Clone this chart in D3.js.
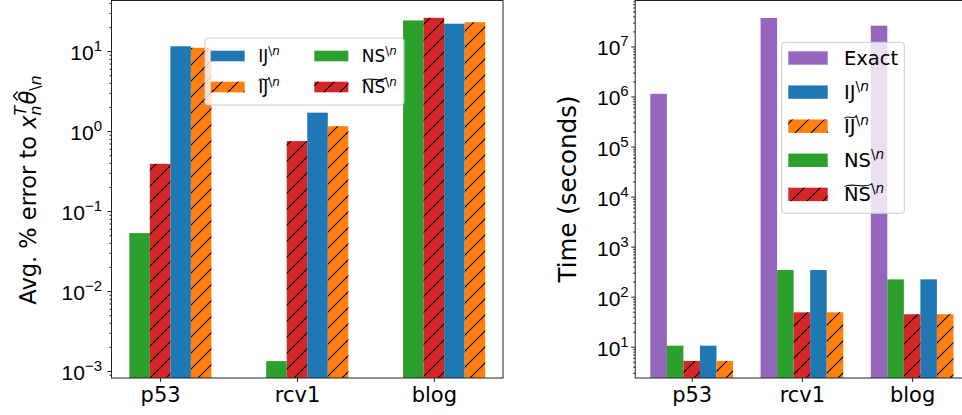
<!DOCTYPE html>
<html>
<head>
<meta charset="utf-8">
<script src="https://cdn.jsdelivr.net/npm/d3@7"></script>
<style>
  body { margin: 0; background: #fff; }
  svg { display: block; font-family: "DejaVu Sans", sans-serif; }
  svg text { white-space: pre; }
</style>
</head>
<body>
<div id="chart"></div>
<script>
const datasets = ['p53', 'rcv1', 'blog'];

// avg. % error (left panel)
const errNS = [0.053, 0.00133, 24.2];
const errNSt = [0.39, 0.75, 26.1];
const errIJ = [11.5, 1.7, 22.0];
const errIJt = [11.0, 1.15, 23.0];
const errTickExp = [-3, -2, -1, 0, 1];

// time in seconds (right panel)
const timeExact = [1.13e6, 3.7e7, 2.6e7];
const timeNS = [10.5, 341, 222];
const timeNSt = [5.2, 48.7, 44.6];
const timeIJ = [10.5, 341, 222];
const timeIJt = [5.2, 48.7, 44.6];
const timeTickExp = [1, 2, 3, 4, 5, 6, 7];

const width = 962;
const height = 415;
const barW = 0.15;

const svg = d3.select('#chart').append('svg')
  .attr('width', width)
  .attr('height', height);

const defs = svg.append('defs');
defs.append('pattern')
  .attr('id', 'hatch')
  .attr('patternUnits', 'userSpaceOnUse')
  .attr('width', 16)
  .attr('height', 16)
  .append('path')
    .attr('d', 'M-4,4 L4,-4 M0,16 L16,0 M12,20 L20,12')
    .attr('stroke', '#000')
    .attr('stroke-width', 1.1);

// draws a run of text pieces (sup / sub / italic) one after the other
function mathRun(parent, x, y, fs, parts) {
  let cx = x;
  const items = [];
  parts.forEach(p => {
    const t = parent.append('text')
      .attr('x', cx)
      .attr('y', y - (p.up || 0) * fs)
      .attr('font-size', fs * (p.sc || 1))
      .attr('font-style', p.it ? 'italic' : null)
      .attr('fill', '#000')
      .text(p.s);
    const w = t.node().getComputedTextLength();
    items.push({ x: cx, w });
    if (!p.stay) cx += w;
  });
  return { width: cx - x, items };
}

function seriesLabel(parent, x, y, fs, base, tilde) {
  const r = mathRun(parent, x, y, fs, [
    { s: base },
    { s: '\\', sc: 0.7, up: 0.42 },
    { s: 'n', sc: 0.7, up: 0.42, it: true }
  ]);
  if (tilde) {
    const b = r.items[0];
    const x0 = b.x + 0.5, x1 = b.x + b.w + 1;
    const yt = y - fs * 0.86;
    const w = x1 - x0;
    parent.append('path')
      .attr('d', `M${x0},${yt + 2} C${x0 + w * 0.3},${yt - 2.5} ${x0 + w * 0.65},${yt + 4.5} ${x1},${yt - 0.5}`)
      .attr('fill', 'none')
      .attr('stroke', '#000')
      .attr('stroke-width', 1.1);
  }
}

function swatch(parent, x, y, w, h, s) {
  parent.append('rect')
    .attr('x', x).attr('y', y).attr('width', w).attr('height', h)
    .attr('fill', s.color);
  if (s.hatch) {
    parent.append('rect')
      .attr('x', x).attr('y', y).attr('width', w).attr('height', h)
      .attr('fill', 'url(#hatch)');
  }
}

function minorTicks(domain) {
  const lo = Math.log10(domain[0]), hi = Math.log10(domain[1]);
  const out = [];
  for (let e = Math.floor(lo); e <= Math.ceil(hi); e++) {
    for (let k = 2; k <= 9; k++) {
      const v = k * Math.pow(10, e);
      if (v >= domain[0] && v <= domain[1]) out.push(v);
    }
  }
  return out;
}

function panel(o) {
  const x = d3.scaleLinear().domain(o.xDomain).range([o.left, o.right]);
  const y = d3.scaleLog().domain(o.yDomain).range([o.bottom, o.top]);
  const g = svg.append('g');

  o.series.forEach(s => {
    const bars = g.append('g');
    s.values.forEach((v, i) => {
      const x0 = x(i + (s.off - 0.5) * barW);
      const x1 = x(i + (s.off + 0.5) * barW);
      swatch(bars, x0, y(v), x1 - x0, o.bottom - y(v), s);
    });
  });

  // frame
  g.append('rect')
    .attr('x', o.left).attr('y', o.top)
    .attr('width', o.right - o.left).attr('height', o.bottom - o.top)
    .attr('fill', 'none')
    .attr('stroke', '#222')
    .attr('stroke-width', 1);

  const majors = o.tickExp.map(e => Math.pow(10, e));
  const ay = g.append('g')
    .attr('transform', `translate(${o.left},0)`)
    .call(d3.axisLeft(y).tickValues(majors).tickSize(4).tickSizeOuter(0).tickFormat(''));
  ay.append('g')
    .call(d3.axisLeft(y).tickValues(minorTicks(o.yDomain)).tickSize(2).tickSizeOuter(0).tickFormat(''));
  ay.selectAll('.domain').remove();
  ay.selectAll('line').attr('stroke', '#222');

  const lab = ay.append('g');
  o.tickExp.forEach(e => {
    const t = lab.append('text')
      .attr('x', o.labelPad)
      .attr('y', y(Math.pow(10, e)) + 9)
      .attr('text-anchor', 'end')
      .attr('font-size', 21)
      .attr('fill', '#000')
      .text('10');
    t.append('tspan')
      .attr('dy', -9)
      .attr('font-size', 15)
      .text(String(e).replace('-', '\u2212'));
  });

  const ax = g.append('g')
    .attr('transform', `translate(0,${o.bottom})`)
    .call(d3.axisBottom(x).tickValues(datasets.map((d, i) => i)).tickSize(4).tickSizeOuter(0)
      .tickFormat(i => datasets[i]));
  ax.selectAll('.domain').remove();
  ax.selectAll('line').attr('stroke', '#222');
  ax.selectAll('text')
    .attr('font-size', 21)
    .attr('font-family', '"DejaVu Sans", sans-serif')
    .attr('fill', '#000')
    .attr('dy', null)
    .attr('y', 23.5);

  return { x, y, g };
}

const C = { exact: '#9467bd', ij: '#1f77b4', ijt: '#ff7f0e', ns: '#2ca02c', nst: '#d62728' };

// ---- left panel
const leftSeries = [
  { key: 'ij', base: 'IJ', tilde: false, values: errIJ, color: C.ij, hatch: false, off: 1 },
  { key: 'ijt', base: 'IJ', tilde: true, values: errIJt, color: C.ijt, hatch: true, off: 2 },
  { key: 'ns', base: 'NS', tilde: false, values: errNS, color: C.ns, hatch: false, off: -1 },
  { key: 'nst', base: 'NS', tilde: true, values: errNSt, color: C.nst, hatch: true, off: 0 }
];
panel({
  left: 111.5, right: 503, top: 0.5, bottom: 378,
  xDomain: [-0.355, 2.505],
  yDomain: [Math.pow(10, -3.0874), Math.pow(10, 1.633)],
  tickExp: errTickExp,
  labelPad: -9.5,
  series: leftSeries
});

// left legend (2 columns)
const legL = svg.append('g');
legL.append('rect')
  .attr('x', 205).attr('y', 38).attr('width', 199).attr('height', 67).attr('rx', 3)
  .attr('fill', '#fff').attr('fill-opacity', 0.8)
  .attr('stroke', '#ccc');
leftSeries.forEach((s, i) => {
  const col = Math.floor(i / 2), row = i % 2;
  const hx = 210.7 + col * 103.6;
  const cy = 56 + row * 31;
  swatch(legL, hx, cy - 5.3, 34, 10.6, s);
  seriesLabel(legL, hx + 47.5, cy + 6.1, 17, s.base, s.tilde);
});

// left y label
const ylL = svg.append('g').attr('transform', 'translate(36,190) rotate(-90)');
const ylLi = ylL.append('g');
const lfs = 22.5;
const run = mathRun(ylLi, 0, 0, lfs, [
  { s: 'Avg. % error to ' },
  { s: 'x', it: true },
  { s: 'T', it: true, sc: 0.7, up: 0.45, stay: true },
  { s: 'n', it: true, sc: 0.7, up: -0.22 },
  { s: ' ', sc: 0.15 },
  { s: '\u03b8', it: true },
  { s: '\\', sc: 0.7, up: -0.22 },
  { s: 'n', it: true, sc: 0.7, up: -0.22 }
]);
const th = run.items[5];
const hc = th.x + th.w / 2 + 1.5;
ylLi.append('path')
  .attr('d', `M${hc - 4.5},${-lfs * 0.82} L${hc},${-lfs * 1.0} L${hc + 4.5},${-lfs * 0.82}`)
  .attr('fill', 'none').attr('stroke', '#000').attr('stroke-width', 1.3);
ylLi.attr('transform', `translate(${-run.width / 2},0)`);

// ---- right panel
const rightSeries = [
  { key: 'exact', base: 'Exact', values: timeExact, color: C.exact, hatch: false, off: -2 },
  { key: 'ij', base: 'IJ', tilde: false, values: timeIJ, color: C.ij, hatch: false, off: 1 },
  { key: 'ijt', base: 'IJ', tilde: true, values: timeIJt, color: C.ijt, hatch: true, off: 2 },
  { key: 'ns', base: 'NS', tilde: false, values: timeNS, color: C.ns, hatch: false, off: -1 },
  { key: 'nst', base: 'NS', tilde: true, values: timeNSt, color: C.nst, hatch: true, off: 0 }
];
panel({
  left: 635.2, right: 968.6, top: 0.5, bottom: 378,
  xDomain: [-0.5125, 2.5125],
  yDomain: [Math.pow(10, 0.3755), Math.pow(10, 7.918)],
  tickExp: timeTickExp,
  labelPad: -6.5,
  series: rightSeries
});

const legR = svg.append('g');
legR.append('rect')
  .attr('x', 781.7).attr('y', 42.3).attr('width', 122.6).attr('height', 171).attr('rx', 3)
  .attr('fill', '#fff').attr('fill-opacity', 0.8)
  .attr('stroke', '#ccc');
rightSeries.forEach((s, i) => {
  const cy = 58 + i * 34.1;
  swatch(legR, 788.3, cy - 6.7, 39.4, 13.4, s);
  if (s.key === 'exact') {
    mathRun(legR, 844, cy + 7, 19.5, [{ s: 'Exact' }]);
  } else {
    seriesLabel(legR, 844, cy + 7, 19.5, s.base, s.tilde);
  }
});

svg.append('text')
  .attr('transform', 'translate(576,189) rotate(-90)')
  .attr('text-anchor', 'middle')
  .attr('font-size', 24.5)
  .attr('fill', '#000')
  .text('Time (seconds)');
</script>
</body>
</html>
